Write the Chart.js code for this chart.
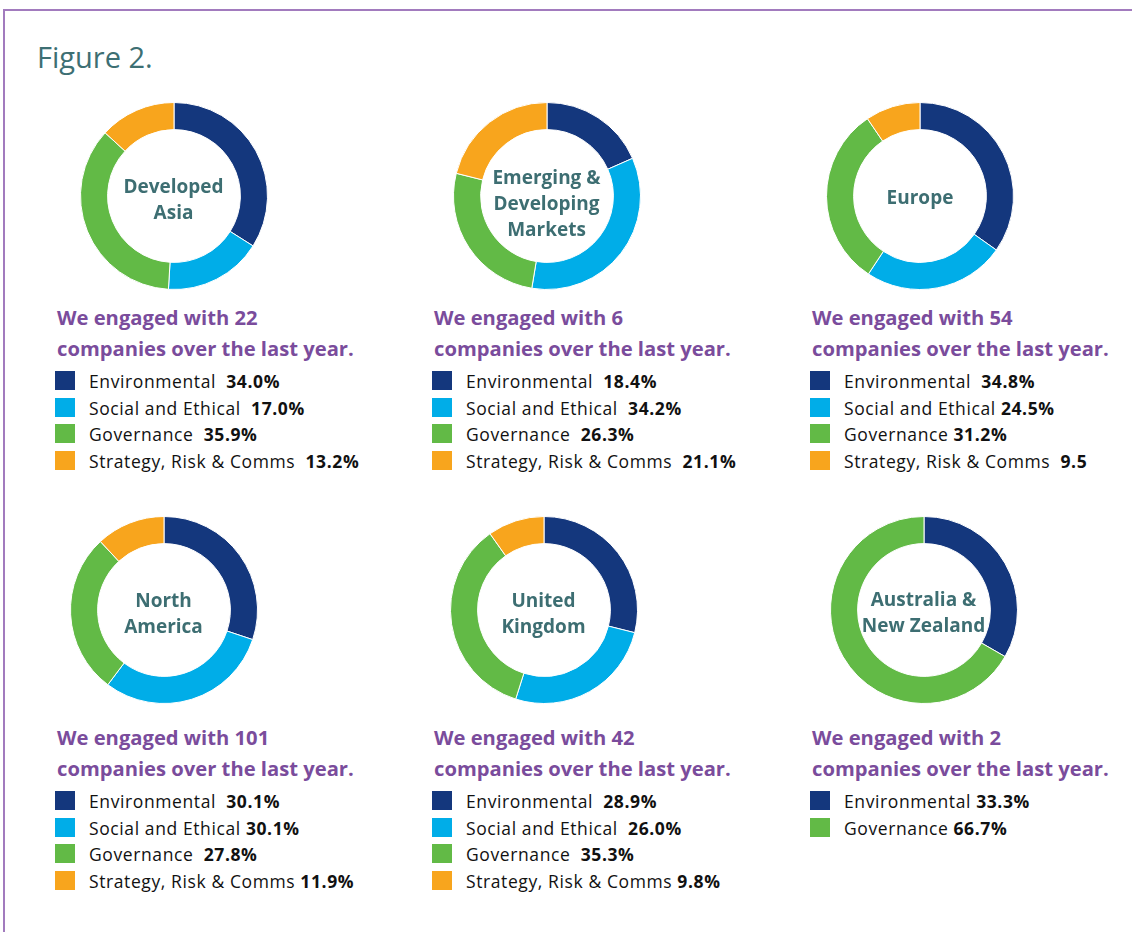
<!DOCTYPE html>
<html>
<head>
<meta charset="utf-8">
<script src="https://cdn.jsdelivr.net/npm/chart.js@4/dist/chart.umd.min.js"></script>
<style>
  html, body { margin: 0; padding: 0; background: #fff; }
  #page { position: relative; width: 1132px; height: 932px; overflow: hidden; background: #fff; font-family: "Open Sans", Lato, sans-serif; }
  .frame-top { position: absolute; left: 3px; top: 9px; width: 1129px; height: 2px; background: #a27bbe; }
  .frame-left { position: absolute; left: 3px; top: 9px; width: 2px; height: 923px; background: #a27bbe; }
  .title { position: absolute; left: 37px; top: 37px; font-size: 29px; font-weight: 400; color: #3d6f73; line-height: 40px; white-space: nowrap; }
  .chartbox { position: absolute; width: 188px; height: 188px; }
  .center { position: absolute; width: 170px; text-align: center; color: #3d6e72; font-weight: 700; font-size: 19px; line-height: 26px; white-space: pre; }
  .heading { position: absolute; color: #7a4c9c; font-weight: 700; font-size: 20.2px; line-height: 31px; white-space: pre; }
  .legend { position: absolute; }
  .row { position: absolute; left: 0; height: 20px; white-space: pre; }
  .sw { position: absolute; left: 0; top: 0; width: 20px; height: 19px; }
  .lt { position: absolute; left: 34px; top: -2px; font-size: 17.5px; letter-spacing: 0.6px; line-height: 25px; color: #111; }
  .lt b { font-weight: 700; }
</style>
</head>
<body>
<div id="page">
  <div class="frame-top"></div>
  <div class="frame-left"></div>
  <div class="title">Figure 2.</div>
</div>
<script>
// ---- data ----
const regions = ['Developed\nAsia', 'Emerging &\nDeveloping\nMarkets', 'Europe', 'North\nAmerica', 'United\nKingdom', 'Australia &\nNew Zealand'];
const companies = [22, 6, 54, 101, 42, 2];
const categories = ['Environmental', 'Social and Ethical', 'Governance', 'Strategy, Risk & Comms'];
const environmental = [34.0, 18.4, 34.8, 30.1, 28.9, 33.3];
const socialEthical = [17.0, 34.2, 24.5, 30.1, 26.0, null];
const governance    = [35.9, 26.3, 31.2, 27.8, 35.3, 66.7];
const strategy      = [13.2, 21.1, 9.5, 11.9, 9.8, null];
// value labels as printed in the legends
const envLabels = ['34.0%', '18.4%', '34.8%', '30.1%', '28.9%', '33.3%'];
const socLabels = ['17.0%', '34.2%', '24.5%', '30.1%', '26.0%', null];
const govLabels = ['35.9%', '26.3%', '31.2%', '27.8%', '35.3%', '66.7%'];
const strLabels = ['13.2%', '21.1%', '9.5', '11.9%', '9.8%', null];

// ---- styles / layout ----
const colors = ['#14377d', '#00ade8', '#62ba46', '#f8a51d'];
const gaps = [
  ['  ', '  ', '  ', '  '],
  ['  ', '  ', '  ', '  '],
  ['  ', ' ', ' ', '  '],
  ['  ', ' ', '  ', ' '],
  ['  ', '  ', '  ', ' '],
  [' ', ' ', ' ', ' ']
];
const donutCenters = [[173.5, 195.5], [546.5, 195.5], [920, 195.5], [163.5, 609.5], [543.5, 609.5], [923.5, 609.5]];
const labelShift = [3, 7, 1, 3, 3, 2];
const textLeft = [57, 434, 812];
const textTop = [302, 722];

const page = document.getElementById('page');
const series = [environmental, socialEthical, governance, strategy];
const valueLabels = [envLabels, socLabels, govLabels, strLabels];

regions.forEach((name, r) => {
  const [cx, cy] = donutCenters[r];
  const box = document.createElement('div');
  box.className = 'chartbox';
  box.style.left = (cx - 94) + 'px';
  box.style.top = (cy - 94) + 'px';
  const cv = document.createElement('canvas');
  cv.width = 188; cv.height = 188;
  box.appendChild(cv);
  page.appendChild(box);

  const labels = [], values = [], bg = [];
  categories.forEach((c, k) => {
    const v = series[k][r];
    if (v !== null) { labels.push(c); values.push(v); bg.push(colors[k]); }
  });

  new Chart(cv, {
    type: 'doughnut',
    data: { labels, datasets: [{ data: values, backgroundColor: bg, borderColor: '#ffffff', borderWidth: 1, hoverOffset: 0 }] },
    options: {
      responsive: false,
      animation: false,
      events: [],
      cutout: '71%',
      layout: { padding: 0 },
      plugins: { legend: { display: false }, tooltip: { enabled: false } }
    }
  });

  // centre label
  const lines = name.split('\n').length;
  const ce = document.createElement('div');
  ce.className = 'center';
  ce.textContent = name;
  ce.style.left = (cx - 85) + 'px';
  ce.style.top = (cy + labelShift[r] - lines * 13) + 'px';
  page.appendChild(ce);

  // heading
  const col = r % 3, rowI = Math.floor(r / 3);
  const h = document.createElement('div');
  h.className = 'heading';
  h.textContent = 'We engaged with ' + companies[r] + '\ncompanies over the last year.';
  h.style.left = textLeft[col] + 'px';
  h.style.top = textTop[rowI] + 'px';
  page.appendChild(h);

  // legend
  const lg = document.createElement('div');
  lg.className = 'legend';
  lg.style.left = (textLeft[col] - 2) + 'px';
  lg.style.top = (textTop[rowI] + 69) + 'px';
  let i = 0;
  categories.forEach((c, k) => {
    const lab = valueLabels[k][r];
    if (lab === null) return;
    const row = document.createElement('div');
    row.className = 'row';
    row.style.top = (i * 26.5) + 'px';
    const sw = document.createElement('div');
    sw.className = 'sw';
    sw.style.background = colors[k];
    const t = document.createElement('div');
    t.className = 'lt';
    t.innerHTML = c.replace('&', '&amp;') + gaps[r][k] + '<b>' + lab + '</b>';
    row.appendChild(sw); row.appendChild(t);
    lg.appendChild(row);
    i++;
  });
  page.appendChild(lg);
});
</script>
</body>
</html>
